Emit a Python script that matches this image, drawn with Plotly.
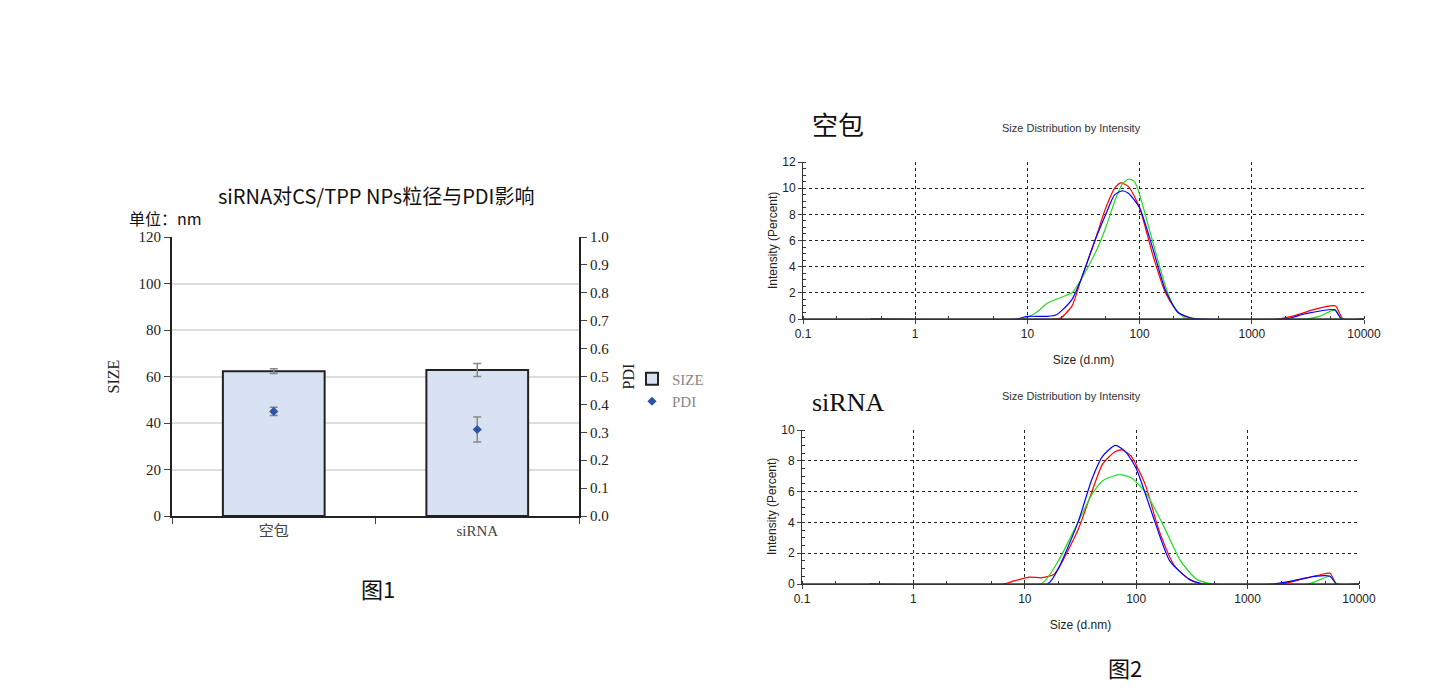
import plotly.graph_objects as go

W, H = 1436, 698
OFF = 8  # page body margin in the browser

# ---- figure 1 data ----
groups = ["空包", "siRNA"]
size_mean = [62.3, 62.8]
size_err = [1.0, 2.8]
pdi_mean = [0.375, 0.31]
pdi_err = [0.015, 0.045]

# ---- figure 2 data (size d.nm, intensity %) ----
blank_red_x = [0.4, 18, 20, 25, 30, 40, 50, 60, 68, 80, 100, 130, 170, 220, 300, 1700, 2500, 3500, 5000, 5600, 6500, 10000]
blank_red_y = [0, 0, 0.1, 1, 3, 6, 8.5, 10, 10.4, 10.1, 8.5, 5, 2, 0.5, 0, 0, 0.3, 0.7, 1.0, 1.0, 0, 0]
blank_green_x = [0.4, 9, 12, 15, 18, 22, 25, 30, 40, 50, 60, 70, 80, 90, 100, 130, 170, 200, 250, 300, 3000, 4000, 5500, 6300, 10000]
blank_green_y = [0, 0, 0.5, 1.2, 1.5, 1.8, 2, 3, 5, 7, 9, 10.3, 10.7, 10.5, 9.5, 6, 2.5, 1, 0.1, 0, 0, 0.2, 0.7, 0, 0]
blank_blue_x = [0.4, 8, 10, 15, 18, 20, 25, 30, 40, 50, 60, 70, 80, 100, 130, 170, 220, 300, 350, 2000, 3000, 5500, 6300, 10000]
blank_blue_y = [0, 0, 0.2, 0.2, 0.3, 0.6, 1.5, 3, 6, 8, 9.5, 9.8, 9.6, 8.5, 5.5, 2.2, 0.5, 0.05, 0, 0, 0.4, 0.7, 0, 0]

sirna_red_x = [0.4, 6.5, 8, 11, 14, 18, 20, 30, 40, 50, 65, 75, 90, 120, 160, 220, 300, 400, 2000, 3000, 4500, 5500, 6300, 10000]
sirna_red_y = [0, 0, 0.2, 0.45, 0.4, 0.6, 1, 3.5, 6, 7.8, 8.6, 8.7, 8.3, 6.5, 3.5, 1.2, 0.3, 0, 0, 0.3, 0.6, 0.7, 0, 0]
sirna_green_x = [0.4, 14, 20, 30, 40, 50, 70, 90, 120, 170, 250, 350, 500, 3500, 5500, 6300, 10000]
sirna_green_y = [0, 0, 1.5, 4, 5.8, 6.7, 7.1, 6.9, 6, 4, 1.5, 0.3, 0, 0, 0.5, 0, 0]
sirna_blue_x = [0.4, 16, 20, 30, 40, 50, 65, 80, 100, 140, 200, 300, 400, 1700, 2500, 4000, 5500, 6300, 10000]
sirna_blue_y = [0, 0, 1, 4, 6.8, 8.3, 9, 8.6, 7.5, 4.5, 1.5, 0.3, 0, 0, 0.2, 0.5, 0.5, 0, 0]

serif = "Times New Roman, Liberation Serif, Noto Sans CJK SC"
arial = "Arial, Liberation Sans"


def px(x):
    return (x - OFF) / W


def py(y):
    return 1 - (y - OFF) / H


fig = go.Figure()

fig.add_trace(go.Bar(
    x=groups, y=size_mean, name="SIZE", width=0.5,
    marker=dict(color="#d9e2f3", line=dict(color="#222", width=2)),
    error_y=dict(type="data", array=size_err, color="#888", thickness=1.5, width=4),
    xaxis="x", yaxis="y",
))
fig.add_trace(go.Scatter(
    x=groups, y=pdi_mean, name="PDI", mode="markers",
    marker=dict(color="#2e54a6", size=7, symbol="diamond"),
    error_y=dict(type="data", array=pdi_err, color="#888", thickness=1.5, width=4),
    xaxis="x", yaxis="y2",
))

def curves(xs, ys, xa, ya):
    for x, y, c in zip(xs, ys, ["red", "#22dd22", "blue"]):
        fig.add_trace(go.Scatter(x=x, y=y, mode="lines", line=dict(color=c, width=1.2, shape="spline", smoothing=0.6),
                                 showlegend=False, xaxis=xa, yaxis=ya))
    fig.add_trace(go.Scatter(x=[0.1, 10000], y=[0, 0], mode="lines", line=dict(color="#333", width=1.5),
                             showlegend=False, xaxis=xa, yaxis=ya))

curves([blank_red_x, blank_green_x, blank_blue_x], [blank_red_y, blank_green_y, blank_blue_y], "x3", "y3")
curves([sirna_red_x, sirna_green_x, sirna_blue_x], [sirna_red_y, sirna_green_y, sirna_blue_y], "x4", "y4")

dls_x = dict(type="log", range=[-1, 4], showline=True, linecolor="#333", automargin=False,
             showgrid=True, gridcolor="#222", griddash="dot", gridwidth=1, zeroline=False,
             ticks="outside", ticklen=4, tickvals=[0.1, 1, 10, 100, 1000, 10000],
             ticktext=["0.1", "1", "10", "100", "1000", "10000"],
             minor=dict(ticks="inside", ticklen=3, showgrid=False, tickcolor="#333"),
             tickfont=dict(family=arial, size=12, color="#222"),
             title=dict(text="Size (d.nm)", font=dict(family=arial, size=12, color="#222")))
dls_y = dict(showline=True, linecolor="#333", showgrid=True, gridcolor="#222", griddash="dot", zeroline=False,
             ticks="outside", ticklen=4, tickfont=dict(family=arial, size=12, color="#222"), automargin=False,
             minor=dict(ticks="inside", ticklen=3, tickcolor="#333"))

fig.update_layout(
    width=W, height=H, margin=dict(l=0, r=0, t=0, b=0, autoexpand=False),
    paper_bgcolor="white", plot_bgcolor="white",
    xaxis=dict(domain=[px(172), px(579)], anchor="y", showline=True, linecolor="#222", linewidth=2,
               ticks="outside", ticklen=6, tickson="boundaries", automargin=False,
               tickfont=dict(family=serif, size=15, color="#444")),
    yaxis=dict(domain=[py(516), py(237)], range=[0, 120], dtick=20, showline=True, linecolor="#222", linewidth=2,
               ticks="outside", ticklen=6, gridcolor="#dddddd", gridwidth=1.5, zeroline=False, automargin=False,
               tickfont=dict(family=serif, size=15, color="#222"),
               title=dict(text="SIZE", font=dict(family=serif, size=16, color="#222"))),
    yaxis2=dict(overlaying="y", side="right", anchor="x", range=[0, 1.0], dtick=0.1, tickformat=".1f",
                showline=True, linecolor="#222", linewidth=2, ticks="outside", ticklen=6, showgrid=False,
                automargin=False, tickfont=dict(family=serif, size=15, color="#222"),
                title=dict(text="PDI", font=dict(family=serif, size=16, color="#222"))),
    xaxis3=dict(domain=[px(803), px(1364)], anchor="y3", **dls_x),
    yaxis3=dict(domain=[py(319), py(162)], anchor="x3", range=[0, 12], dtick=2, **dls_y),
    xaxis4=dict(domain=[px(802), px(1359)], anchor="y4", **dls_x),
    yaxis4=dict(domain=[py(584), py(430)], anchor="x4", range=[0, 10], dtick=2, **dls_y),
    legend=dict(x=px(632), y=py(390), xanchor="left", yanchor="middle", bgcolor="rgba(0,0,0,0)",
                font=dict(family=serif, size=15, color="#888"), tracegroupgap=6),
)

def note(text, x, y, size, family, color="#111", angle=0):
    fig.add_annotation(text=text, x=px(x), y=py(y), xref="paper", yref="paper",
                       xanchor="center", yanchor="middle", textangle=angle,
                       showarrow=False, font=dict(family=family, size=size, color=color))

note("siRNA对CS/TPP NPs粒径与PDI影响", 376, 195, 20, "Noto Sans CJK SC")
note("单位：nm", 165, 218, 16, "Noto Sans CJK SC, " + serif)
note("图1", 378, 588, 22, "Noto Sans CJK SC")
note("图2", 1125, 667, 22, "Noto Sans CJK SC")
note("空包", 838, 123, 26, "Noto Sans CJK SC")
note("siRNA", 848, 402, 26, serif)
note("Size Distribution by Intensity", 1071, 128, 11, arial, "#333")
note("Size Distribution by Intensity", 1071, 396, 11, arial, "#333")
note("Intensity (Percent)", 773, 240, 12, arial, "#222", -90)
note("Intensity (Percent)", 772, 507, 12, arial, "#222", -90)

fig.write_html("out.html")
